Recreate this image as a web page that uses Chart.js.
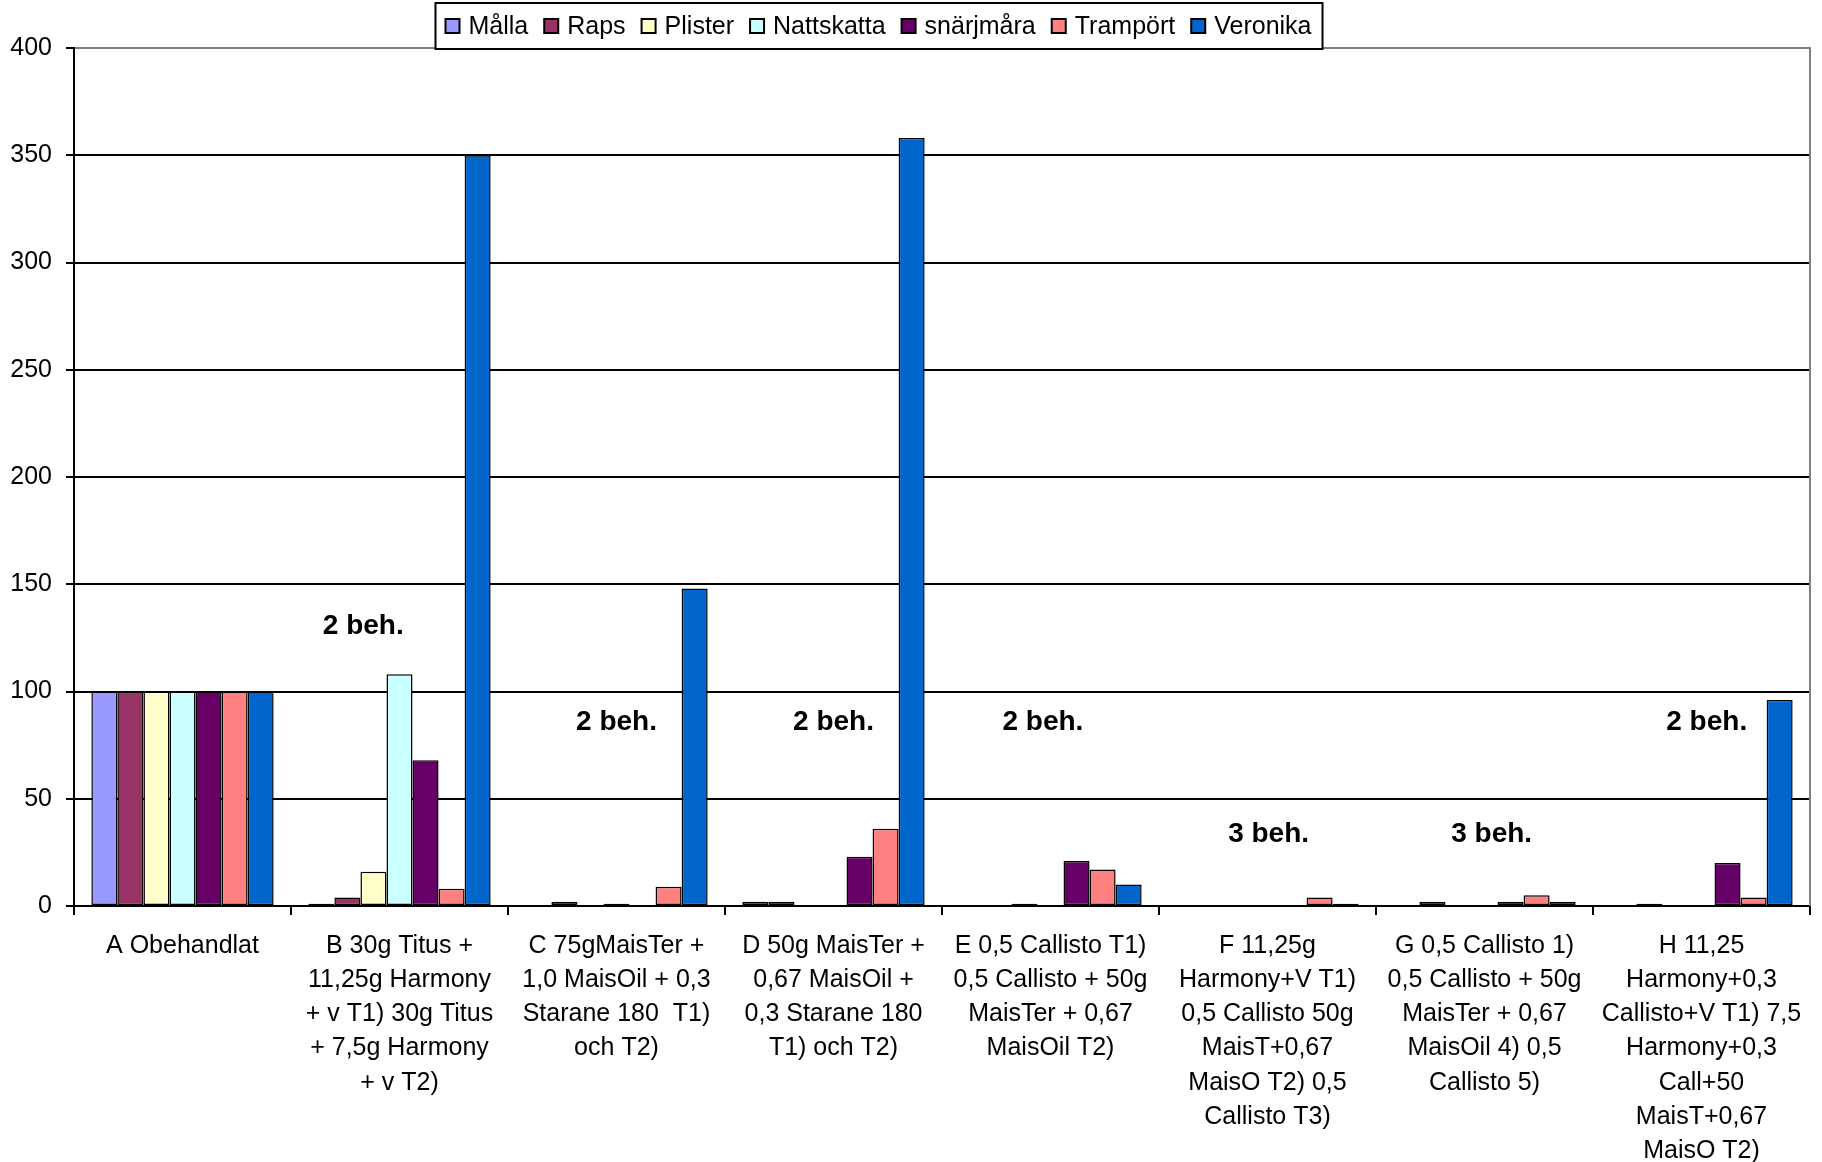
<!DOCTYPE html>
<html>
<head>
<meta charset="utf-8">
<script src="https://cdn.jsdelivr.net/npm/chart.js@4"></script>
<style>
  html, body { margin: 0; padding: 0; background: #fff; }
  #wrap { width: 1822px; height: 1162px; }
</style>
</head>
<body>
<div id="wrap"><canvas id="c" width="1822" height="1162"></canvas></div>
<script>
// ---- data ----
const categories = [
  ["A Obehandlat"],
  ["B 30g Titus +", "11,25g Harmony", "+ v T1) 30g Titus", "+ 7,5g Harmony", "+ v T2)"],
  ["C 75gMaisTer +", "1,0 MaisOil + 0,3", "Starane 180  T1)", "och T2)"],
  ["D 50g MaisTer +", "0,67 MaisOil +", "0,3 Starane 180", "T1) och T2)"],
  ["E 0,5 Callisto T1)", "0,5 Callisto + 50g", "MaisTer + 0,67", "MaisOil T2)"],
  ["F 11,25g", "Harmony+V T1)", "0,5 Callisto 50g", "MaisT+0,67", "MaisO T2) 0,5", "Callisto T3)"],
  ["G 0,5 Callisto 1)", "0,5 Callisto + 50g", "MaisTer + 0,67", "MaisOil 4) 0,5", "Callisto 5)"],
  ["H 11,25", "Harmony+0,3", "Callisto+V T1) 7,5", "Harmony+0,3", "Call+50", "MaisT+0,67", "MaisO T2)"]
];
const seriesNames = ["Målla", "Raps", "Plister", "Nattskatta", "snärjmåra", "Trampört", "Veronika"];
const malla      = [100, 1, 0, 2, 0, 0, 0, 0];
const raps       = [100, 4, 2, 2, 0, 0, 2, 1];
const plister    = [100, 16, 0, 0, 1, 0, 0, 0];
const nattskatta = [100, 108, 1, 0, 0, 0, 0, 0];
const snarjmara  = [100, 68, 0, 23, 21, 0, 2, 20];
const tramport   = [100, 8, 9, 36, 17, 4, 5, 4];
const veronika   = [100, 350, 148, 358, 10, 1, 2, 96];
const seriesValues = [malla, raps, plister, nattskatta, snarjmara, tramport, veronika];
const seriesColors = ["#9999FF", "#993366", "#FFFFCC", "#CCFFFF", "#660066", "#FF8080", "#0066CC"];
const yTicks = [0, 50, 100, 150, 200, 250, 300, 350, 400];
// annotations: text, category index, offset (fraction of category), value level
const noteTexts  = ["2 beh.", "2 beh.", "2 beh.", "2 beh.", "3 beh.", "3 beh.", "2 beh."];
const noteCats   = [1, 2, 3, 4, 5, 6, 7];
const noteShift  = [-0.167, 0, 0, -0.035, 0.005, 0.033, 0.024];
const noteLevels = [130.6, 85.6, 85.6, 85.6, 33.3, 33.3, 85.5];

const FONT = "'Liberation Sans', Arial, sans-serif";
Chart.defaults.font.family = FONT;
Chart.defaults.color = '#000';

const datasets = seriesNames.map((name, i) => ({
  label: name,
  data: seriesValues[i],
  backgroundColor: seriesColors[i],
  borderColor: '#000',
  borderWidth: (ctx) => (ctx.raw === 0 ? 0 : 1.5),
  borderSkipped: false,
  barPercentage: 1.0,
  categoryPercentage: 0.84
}));

const framePlugin = {
  id: 'frame',
  afterDatasetsDraw(chart) {
    const { ctx, scales } = chart;
    ctx.save();
    ctx.font = "bold 28px " + FONT;
    ctx.fillStyle = '#000';
    ctx.textAlign = 'center';
    ctx.textBaseline = 'middle';
    const catW = scales.x.width / categories.length;
    noteTexts.forEach((t, i) => {
      const x = scales.x.getPixelForValue(noteCats[i]) + noteShift[i] * catW;
      const y = scales.y.getPixelForValue(noteLevels[i]);
      ctx.fillText(t, x, y);
    });
    ctx.restore();
  },
  afterDraw(chart) {
    const { ctx, chartArea } = chart;
    ctx.save();
    // right gray border
    ctx.strokeStyle = '#808080';
    ctx.lineWidth = 2;
    ctx.beginPath();
    ctx.moveTo(chartArea.right, chartArea.top - 1);
    ctx.lineTo(chartArea.right, chartArea.bottom);
    ctx.stroke();

    // legend
    ctx.font = "25px " + FONT;
    const marker = 14, gapText = 9, gapItem = 16, padL = 10, padR = 11;
    const widths = chart.data.datasets.map(d => ctx.measureText(d.label).width);
    let content = 0;
    widths.forEach((w, i) => { content += marker + gapText + w + (i < widths.length - 1 ? gapItem : 0); });
    const boxW = padL + content + padR;
    const boxX = 879 - boxW / 2;
    const boxY = 3, boxH = 46;
    ctx.fillStyle = '#fff';
    ctx.fillRect(boxX, boxY, boxW, boxH);
    ctx.strokeStyle = '#000';
    ctx.lineWidth = 2;
    ctx.strokeRect(boxX, boxY, boxW, boxH);
    let x = boxX + padL;
    const cy = boxY + boxH / 2;
    ctx.textBaseline = 'middle';
    ctx.textAlign = 'left';
    chart.data.datasets.forEach((d, i) => {
      ctx.fillStyle = d.backgroundColor;
      ctx.fillRect(x, cy - marker / 2, marker, marker);
      ctx.strokeStyle = '#000';
      ctx.lineWidth = 2;
      ctx.strokeRect(x, cy - marker / 2, marker, marker);
      ctx.fillStyle = '#000';
      ctx.fillText(d.label, x + marker + gapText, cy + 1);
      x += marker + gapText + widths[i] + gapItem;
    });
    ctx.restore();
  }
};

new Chart(document.getElementById('c'), {
  type: 'bar',
  data: { labels: categories, datasets },
  options: {
    responsive: false,
    animation: false,
    devicePixelRatio: 1,
    layout: { padding: { top: 48, right: 12, left: 0, bottom: 0 } },
    plugins: { legend: { display: false }, tooltip: { enabled: false }, title: { display: false } },
    scales: {
      x: {
        offset: true,
        grid: { display: true, drawOnChartArea: false, drawTicks: true, tickLength: 9, color: '#000', lineWidth: 2, offset: true },
        border: { display: true, color: '#000', width: 2 },
        ticks: {
          autoSkip: false, maxRotation: 0, minRotation: 0, padding: 13.5,
          font: { size: 25, lineHeight: 1.37 }, color: '#000'
        },
        afterFit(scale) { scale.height = 1162 - 906; }
      },
      y: {
        min: 0, max: 400,
        afterBuildTicks(scale) { scale.ticks = yTicks.map(v => ({ value: v })); },
        grid: {
          color: (c) => (c.tick && c.tick.value === 400 ? '#808080' : '#000'),
          tickColor: '#000',
          lineWidth: 2, tickLength: 8, drawTicks: true
        },
        border: { display: true, color: '#000', width: 2 },
        ticks: { padding: 14, font: { size: 25 }, color: '#000' },
        afterFit(scale) { scale.width = 74; }
      }
    }
  },
  plugins: [framePlugin]
});
</script>
</body>
</html>
